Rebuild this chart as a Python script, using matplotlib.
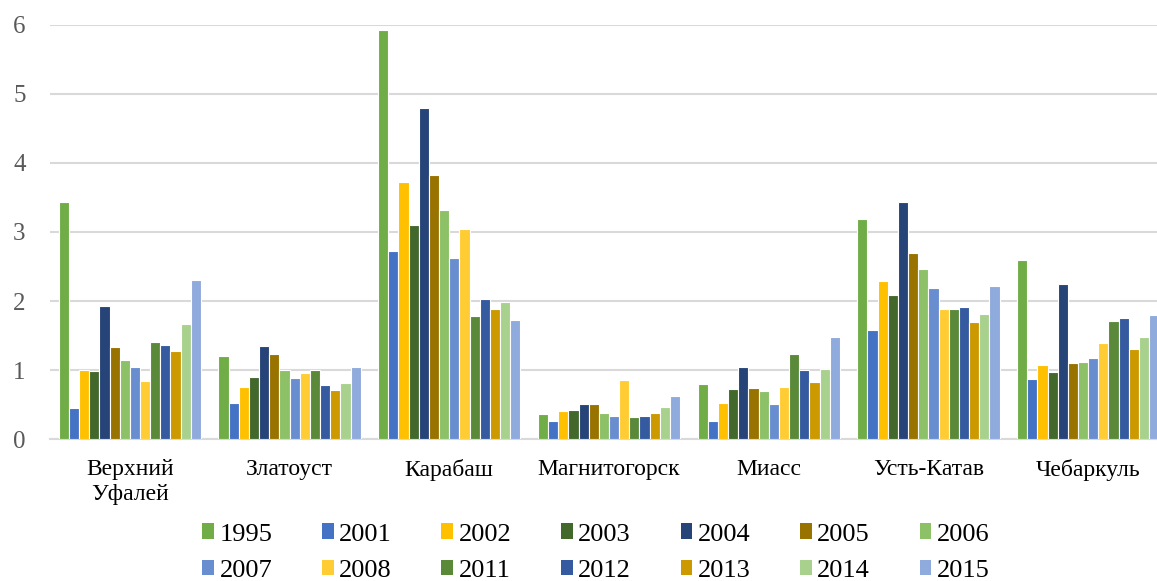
#!/usr/bin/env python3
# plot.py
# Grouped bar chart: values by town and year

import numpy as np
import matplotlib
matplotlib.use('Agg')
import matplotlib.pyplot as plt
from matplotlib.patches import Patch


#############
# Data
#############

towns = ['Верхний\nУфалей', 'Златоуст', 'Карабаш', 'Магнитогорск',
         'Миасс', 'Усть-Катав', 'Чебаркуль']

years = ['1995', '2001', '2002', '2003', '2004', '2005', '2006',
         '2007', '2008', '2011', '2012', '2013', '2014', '2015']

# one list per year, values in the town order above
v1995 = [3.44, 1.21, 5.93, 0.37, 0.80, 3.19, 2.60]
v2001 = [0.46, 0.52, 2.72, 0.27, 0.27, 1.58, 0.87]
v2002 = [1.00, 0.76, 3.73, 0.41, 0.53, 2.29, 1.07]
v2003 = [0.99, 0.90, 3.10, 0.42, 0.73, 2.09, 0.98]
v2004 = [1.93, 1.35, 4.80, 0.51, 1.05, 3.43, 2.25]
v2005 = [1.34, 1.23, 3.82, 0.51, 0.74, 2.70, 1.11]
v2006 = [1.15, 1.00, 3.32, 0.38, 0.70, 2.46, 1.12]
v2007 = [1.04, 0.88, 2.63, 0.34, 0.51, 2.19, 1.17]
v2008 = [0.84, 0.96, 3.05, 0.86, 0.75, 1.89, 1.39]
v2011 = [1.41, 1.00, 1.79, 0.32, 1.23, 1.88, 1.71]
v2012 = [1.36, 0.78, 2.03, 0.33, 1.00, 1.91, 1.76]
v2013 = [1.28, 0.71, 1.88, 0.38, 0.83, 1.70, 1.31]
v2014 = [1.67, 0.81, 1.99, 0.47, 1.02, 1.81, 1.48]
v2015 = [2.30, 1.04, 1.73, 0.63, 1.48, 2.22, 1.80]

series = [v1995, v2001, v2002, v2003, v2004, v2005, v2006,
          v2007, v2008, v2011, v2012, v2013, v2014, v2015]

colors = ['#70AD47', '#4472C4', '#FFC000', '#43682B', '#264478', '#997300',
          '#8CC168', '#698ED0', '#FFCD33', '#5A8A39', '#355AA0', '#CC9A00',
          '#A9D18E', '#8FAADC']


##############
# Create Graph
##############

plt.rcParams['font.family'] = ['Liberation Serif', 'DejaVu Serif']

fig = plt.figure(figsize=(11.57, 5.81), dpi=100)
# right edge runs a little past the picture, like the cropped original
ax = fig.add_axes([50 / 1157, 0.2439, 1118 / 1157, 0.7136])

x = np.arange(len(towns))
step = 0.0636
offsets = (np.arange(len(years)) - (len(years) - 1) / 2) * step

for i, vals in enumerate(series):
    ax.bar(x + offsets[i], vals, width=step, color=colors[i],
           edgecolor='white', linewidth=0.8, zorder=3, label=years[i])

ax.set_xlim(-0.5, len(towns) - 0.5)
ax.set_ylim(0, 6)
ax.set_yticks(range(0, 7))
ax.set_xticks(x)
ax.set_xticklabels(towns, fontsize=17, color='black', linespacing=1.25)

ax.tick_params(axis='y', length=0, pad=17.5, labelsize=18, labelcolor='#595959')
ax.tick_params(axis='x', length=0, pad=14)

ax.grid(axis='y', color='#D9D9D9', linewidth=1.5, zorder=0)
for side in ['top', 'right', 'left']:
    ax.spines[side].set_visible(False)
ax.spines['bottom'].set_color('#D9D9D9')
ax.spines['bottom'].set_linewidth(1.5)

# legend filled row by row: reorder for matplotlib's column filling
handles = [Patch(facecolor=c) for c in colors]
order = []
for j in range(7):
    order += [j, j + 7]
fig.legend([handles[k] for k in order], [years[k] for k in order],
           loc='center', bbox_to_anchor=(0.515, 0.049), ncol=7, frameon=False,
           fontsize=19, handlelength=0.45, handleheight=0.55,
           handletextpad=0.2, columnspacing=1.88, labelspacing=0.53,
           borderpad=0)

fig.savefig('out.png', dpi=100)
